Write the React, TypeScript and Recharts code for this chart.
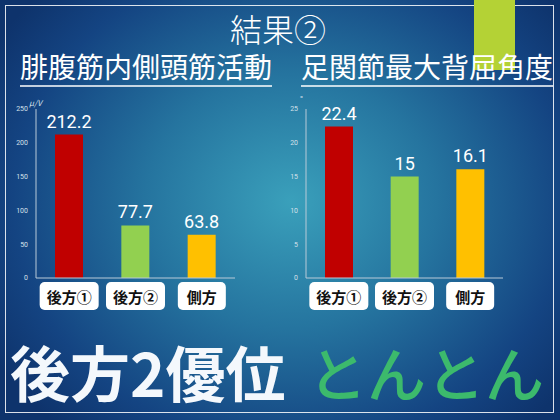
import React from "react";
import { BarChart, Bar, XAxis, YAxis, Cell, LabelList } from "recharts";

const categories = ["後方①", "後方②", "側方"];
const emgValues = [212.2, 77.7, 63.8]; // 腓腹筋内側頭筋活動 (μV)
const angleValues = [22.4, 15, 16.1]; // 足関節最大背屈角度 (°)
const emgTicks = [0, 50, 100, 150, 200, 250];
const angleTicks = [0, 5, 10, 15, 20, 25];
const barColors = ["#c00000", "#92d050", "#ffc000"];

const emgData = categories.map((name, i) => ({ name, value: emgValues[i] }));
const angleData = categories.map((name, i) => ({ name, value: angleValues[i] }));

const JP = "'Noto Sans CJK JP', 'Noto Sans', sans-serif";

// 白い角丸ボックスのカテゴリラベル
function BoxTick(props: any) {
  const { x, y, payload } = props;
  const label = String(payload.value);
  const w = label.length * 11 + 26;
  return (
    <g>
      <rect x={x - w / 2} y={y - 4} width={w} height={28} rx={5} fill="#ffffff" />
      <text
        x={x}
        y={y + 10}
        textAnchor="middle"
        dominantBaseline="central"
        fill="#111"
        fontSize={15}
        fontWeight={700}
        fontFamily={JP}
      >
        {label}
      </text>
    </g>
  );
}

function SmallBars({
  data,
  ticks,
  right,
}: {
  data: { name: string; value: number }[];
  ticks: number[];
  right: number;
}) {
  return (
    <BarChart
      width={250}
      height={230}
      data={data}
      margin={{ top: 19, right, left: 6, bottom: 2 }}
    >
      <YAxis
        width={30}
        domain={[ticks[0], ticks[ticks.length - 1]]}
        ticks={ticks}
        tickLine={false}
        axisLine={{ stroke: "#b9cad8" }}
        tick={{ fill: "#d4e0ea", fontSize: 7, fontFamily: "Roboto" }}
      />
      <XAxis
        dataKey="name"
        height={40}
        tickLine={false}
        axisLine={{ stroke: "#b9cad8" }}
        tick={<BoxTick />}
        interval={0}
      />
      <Bar dataKey="value" barSize={28} isAnimationActive={false}>
        {data.map((d, i) => (
          <Cell key={d.name} fill={barColors[i]} />
        ))}
        <LabelList
          dataKey="value"
          position="top"
          offset={7}
          fill="#ffffff"
          fontSize={18}
          fontFamily="'Liberation Sans Narrow', Roboto, sans-serif"
        />
      </Bar>
    </BarChart>
  );
}

const subtitleStyle: React.CSSProperties = {
  position: "absolute",
  top: 50,
  color: "#fff",
  fontSize: 28,
  lineHeight: "32px",
  whiteSpace: "nowrap",
};

export default function App() {
  return (
    <div
      style={{
        position: "absolute",
        left: 0,
        top: 0,
        width: 560,
        height: 420,
        overflow: "hidden",
        fontFamily: JP,
        background:
          "radial-gradient(ellipse 62% 72% at 52% 48%, #3aa0bb 0%, #25749f 42%, #144482 80%, #0e336c 100%)",
      }}
    >
      {/* 枠線と下線 */}
      <svg
        width={560}
        height={420}
        style={{ position: "absolute", left: 0, top: 0 }}
      >
        <rect
          x={5.5}
          y={5.5}
          width={548}
          height={407}
          fill="none"
          stroke="rgba(255,255,255,0.85)"
          strokeWidth={1}
        />
        <rect x={474} y={0} width={41} height={70} fill="#b4d235" />
        <line x1={20} x2={272} y1={86} y2={86} stroke="#fff" strokeWidth={1.5} />
        <line x1={301} x2={553} y1={86} y2={86} stroke="#fff" strokeWidth={1.5} />
      </svg>

      <div
        style={{
          position: "absolute",
          left: 0,
          top: 9,
          width: 556,
          textAlign: "center",
          color: "#fff",
          fontSize: 32,
          lineHeight: "38px",
          fontWeight: 300,
        }}
      >
        結果②
      </div>
      <div style={{ ...subtitleStyle, left: 20 }}>腓腹筋内側頭筋活動</div>
      <div style={{ ...subtitleStyle, left: 301 }}>足関節最大背屈角度</div>

      <div style={{ position: "absolute", left: 0, top: 90 }}>
        <SmallBars data={emgData} ticks={emgTicks} right={15} />
      </div>
      <div style={{ position: "absolute", left: 270, top: 90 }}>
        <SmallBars data={angleData} ticks={angleTicks} right={17} />
      </div>

      <div
        style={{
          position: "absolute",
          left: 29,
          top: 97,
          color: "#d4e0ea",
          fontSize: 8,
          fontStyle: "italic",
        }}
      >
        μ/V
      </div>
      <div
        style={{
          position: "absolute",
          left: 300,
          top: 93,
          color: "#d4e0ea",
          fontSize: 8,
        }}
      >
        °
      </div>

      <div
        style={{
          position: "absolute",
          left: 10,
          top: 336,
          color: "#f4f8fc",
          fontSize: 60,
          lineHeight: "70px",
          fontWeight: 700,
          whiteSpace: "nowrap",
        }}
      >
        後方2優位
      </div>
      <div
        style={{
          position: "absolute",
          left: 308,
          top: 337,
          color: "#3cba6c",
          fontSize: 59,
          lineHeight: "70px",
          fontWeight: 500,
          whiteSpace: "nowrap",
        }}
      >
        とんとん
      </div>
    </div>
  );
}
